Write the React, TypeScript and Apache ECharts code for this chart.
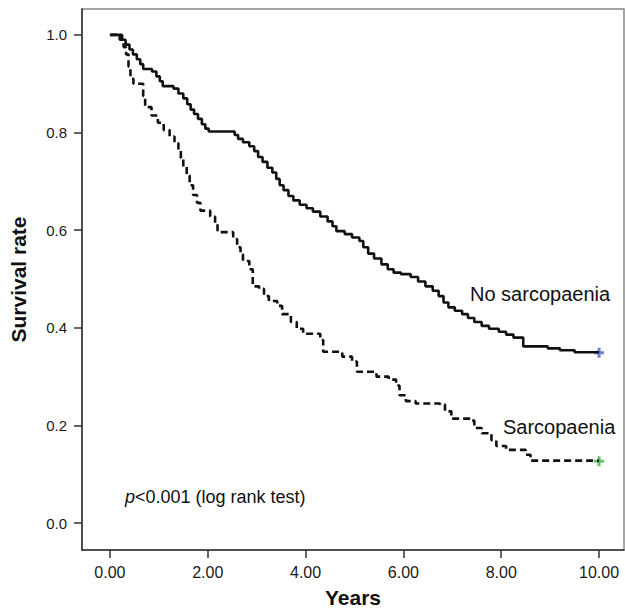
import React, { useEffect, useRef } from "react";
import * as echarts from "echarts";

const xTickValues = [0, 2, 4, 6, 8, 10];
const yTickValues = [0, 0.2, 0.4, 0.6, 0.8, 1.0];

const noSarcTimes = [
  0, 0.25, 0.32, 0.4, 0.47, 0.55, 0.62, 0.68, 0.86, 0.95, 1.02, 1.08, 1.3, 1.4, 1.5, 1.58, 1.65, 1.72, 1.8,
  1.88, 1.95, 2.02, 2.55, 2.62, 2.72, 2.85, 2.95, 3.03, 3.12, 3.22, 3.32, 3.4, 3.47, 3.55, 3.65, 3.75, 3.88,
  4.02, 4.15, 4.3, 4.45, 4.55, 4.63, 4.8, 4.95, 5.1, 5.18, 5.28, 5.4, 5.55, 5.68, 5.8, 5.95, 6.15, 6.3, 6.45,
  6.6, 6.72, 6.82, 6.92, 7.05, 7.2, 7.32, 7.45, 7.6, 7.75, 7.95, 8.1, 8.25, 8.45, 8.95, 9.2, 9.5, 10.0,
];
const noSarcSurv = [
  1.0, 0.99, 0.98, 0.97, 0.96, 0.95, 0.94, 0.93, 0.925, 0.915, 0.905, 0.895, 0.89, 0.88, 0.87, 0.858, 0.847,
  0.838, 0.828, 0.817, 0.808, 0.802, 0.795, 0.787, 0.78, 0.772, 0.762, 0.75, 0.74, 0.728, 0.718, 0.705, 0.692,
  0.682, 0.67, 0.661, 0.652, 0.645, 0.638, 0.628, 0.618, 0.608, 0.598, 0.592, 0.585, 0.578, 0.565, 0.552,
  0.542, 0.53, 0.52, 0.513, 0.51, 0.504, 0.495, 0.485, 0.476, 0.465, 0.452, 0.442, 0.435, 0.428, 0.42, 0.412,
  0.404, 0.398, 0.392, 0.386, 0.38, 0.362, 0.358, 0.354, 0.35, 0.349,
];

const sarcTimes = [
  0, 0.2, 0.28, 0.33, 0.38, 0.42, 0.48, 0.68, 0.72, 0.85, 0.98, 1.1, 1.22, 1.32, 1.4, 1.45, 1.5, 1.57, 1.63,
  1.7, 1.78, 1.85, 2.05, 2.15, 2.2, 2.52, 2.6, 2.67, 2.72, 2.85, 2.92, 3.05, 3.15, 3.25, 3.42, 3.52, 3.7, 3.82,
  3.95, 4.3, 4.36, 4.75, 4.95, 5.05, 5.45, 5.7, 5.85, 5.92, 6.05, 6.25, 6.75, 6.85, 6.98, 7.4, 7.45, 7.6, 7.8,
  7.9, 8.1, 8.5, 8.6, 10.0,
];
const sarcSurv = [
  1.0, 0.99, 0.975, 0.96, 0.935, 0.91, 0.9, 0.875, 0.852, 0.835, 0.82, 0.805, 0.792, 0.778, 0.764, 0.748, 0.73,
  0.712, 0.692, 0.672, 0.656, 0.64, 0.628, 0.615, 0.596, 0.582, 0.565, 0.55, 0.537, 0.52, 0.485, 0.48, 0.465,
  0.455, 0.445, 0.428, 0.412, 0.398, 0.388, 0.375, 0.351, 0.341, 0.331, 0.31, 0.3, 0.294, 0.282, 0.262, 0.25,
  0.245, 0.243, 0.229, 0.214, 0.21, 0.195, 0.184, 0.17, 0.158, 0.15, 0.14, 0.128, 0.127,
];

const censorTime = 10;
const noSarcCensor = 0.349;
const sarcCensor = 0.127;

const FONT = "'Liberation Sans', Arial, Helvetica, sans-serif";
const PLUS = "path://M3.5,0 H6.5 V3.5 H10 V6.5 H6.5 V10 H3.5 V6.5 H0 V3.5 H3.5 Z";

export default function App() {
  const ref = useRef<HTMLDivElement>(null);
  useEffect(() => {
    if (!ref.current) return;
    const chart = echarts.init(ref.current, null, { renderer: "svg" });
    const zip = (t: number[], s: number[]) => t.map((v, i) => [v, s[i]]);
    chart.setOption({
      animation: false,
      backgroundColor: "#ffffff",
      grid: {
        left: 82,
        top: 9,
        right: 1,
        bottom: 61,
        show: true,
        borderColor: "#888",
        borderWidth: 1.5,
      },
      xAxis: {
        type: "value",
        min: -0.571,
        max: 10.51,
        name: "Years",
        nameLocation: "middle",
        nameGap: 37,
        nameTextStyle: { fontFamily: FONT, fontSize: 21, fontWeight: "bold", color: "#111" },
        splitLine: { show: false },
        axisLine: { show: true, onZero: false, lineStyle: { color: "#333", width: 1.5 } },
        axisTick: { show: true, length: 8, customValues: xTickValues, lineStyle: { color: "#333", width: 1.5 } },
        axisLabel: {
          customValues: xTickValues,
          formatter: (v: number) => v.toFixed(2),
          margin: 14,
          fontFamily: FONT,
          fontSize: 16,
          color: "#1a1a1a",
        },
      },
      yAxis: {
        type: "value",
        min: -0.055,
        max: 1.053,
        name: "Survival rate",
        nameLocation: "middle",
        nameGap: 53,
        nameTextStyle: { fontFamily: FONT, fontSize: 21, fontWeight: "bold", color: "#111" },
        splitLine: { show: false },
        axisLine: { show: true, onZero: false, lineStyle: { color: "#333", width: 1.5 } },
        axisTick: { show: true, length: 8, customValues: yTickValues, lineStyle: { color: "#333", width: 1.5 } },
        axisLabel: {
          customValues: yTickValues,
          formatter: (v: number) => v.toFixed(1),
          margin: 15,
          fontFamily: FONT,
          fontSize: 15,
          color: "#1a1a1a",
        },
      },
      series: [
        {
          name: "No sarcopaenia",
          type: "line",
          step: "end",
          data: zip(noSarcTimes, noSarcSurv),
          showSymbol: false,
          lineStyle: { color: "#111", width: 2.6 },
        },
        {
          name: "Sarcopaenia",
          type: "line",
          step: "end",
          data: zip(sarcTimes, sarcSurv),
          showSymbol: false,
          lineStyle: { color: "#111", width: 2.6, type: [7, 4] },
        },
        {
          type: "scatter",
          data: [[censorTime, noSarcCensor]],
          symbol: PLUS,
          symbolSize: 10,
          itemStyle: { color: "#4a5fc8" },
        },
        {
          type: "scatter",
          data: [[censorTime, sarcCensor]],
          symbol: PLUS,
          symbolSize: 10,
          itemStyle: { color: "#3cb84a" },
        },
      ],
      graphic: [
        {
          type: "text",
          left: 470,
          top: 284,
          style: { text: "No sarcopaenia", fontFamily: FONT, fontSize: 20, fill: "#111" },
        },
        {
          type: "text",
          left: 503,
          top: 417,
          style: { text: "Sarcopaenia", fontFamily: FONT, fontSize: 20, fill: "#111" },
        },
        {
          type: "text",
          left: 125,
          top: 488,
          style: {
            text: "{i|p}<0.001 (log rank test)",
            fontFamily: FONT,
            fontSize: 18,
            fill: "#111",
            rich: { i: { fontStyle: "italic", fontFamily: FONT, fontSize: 18, fill: "#111" } },
          },
        },
      ],
    });
    return () => chart.dispose();
  }, []);
  return (
    <div
      ref={ref}
      style={{ position: "fixed", left: 0, top: 0, width: 625, height: 613, background: "#fff" }}
    />
  );
}
